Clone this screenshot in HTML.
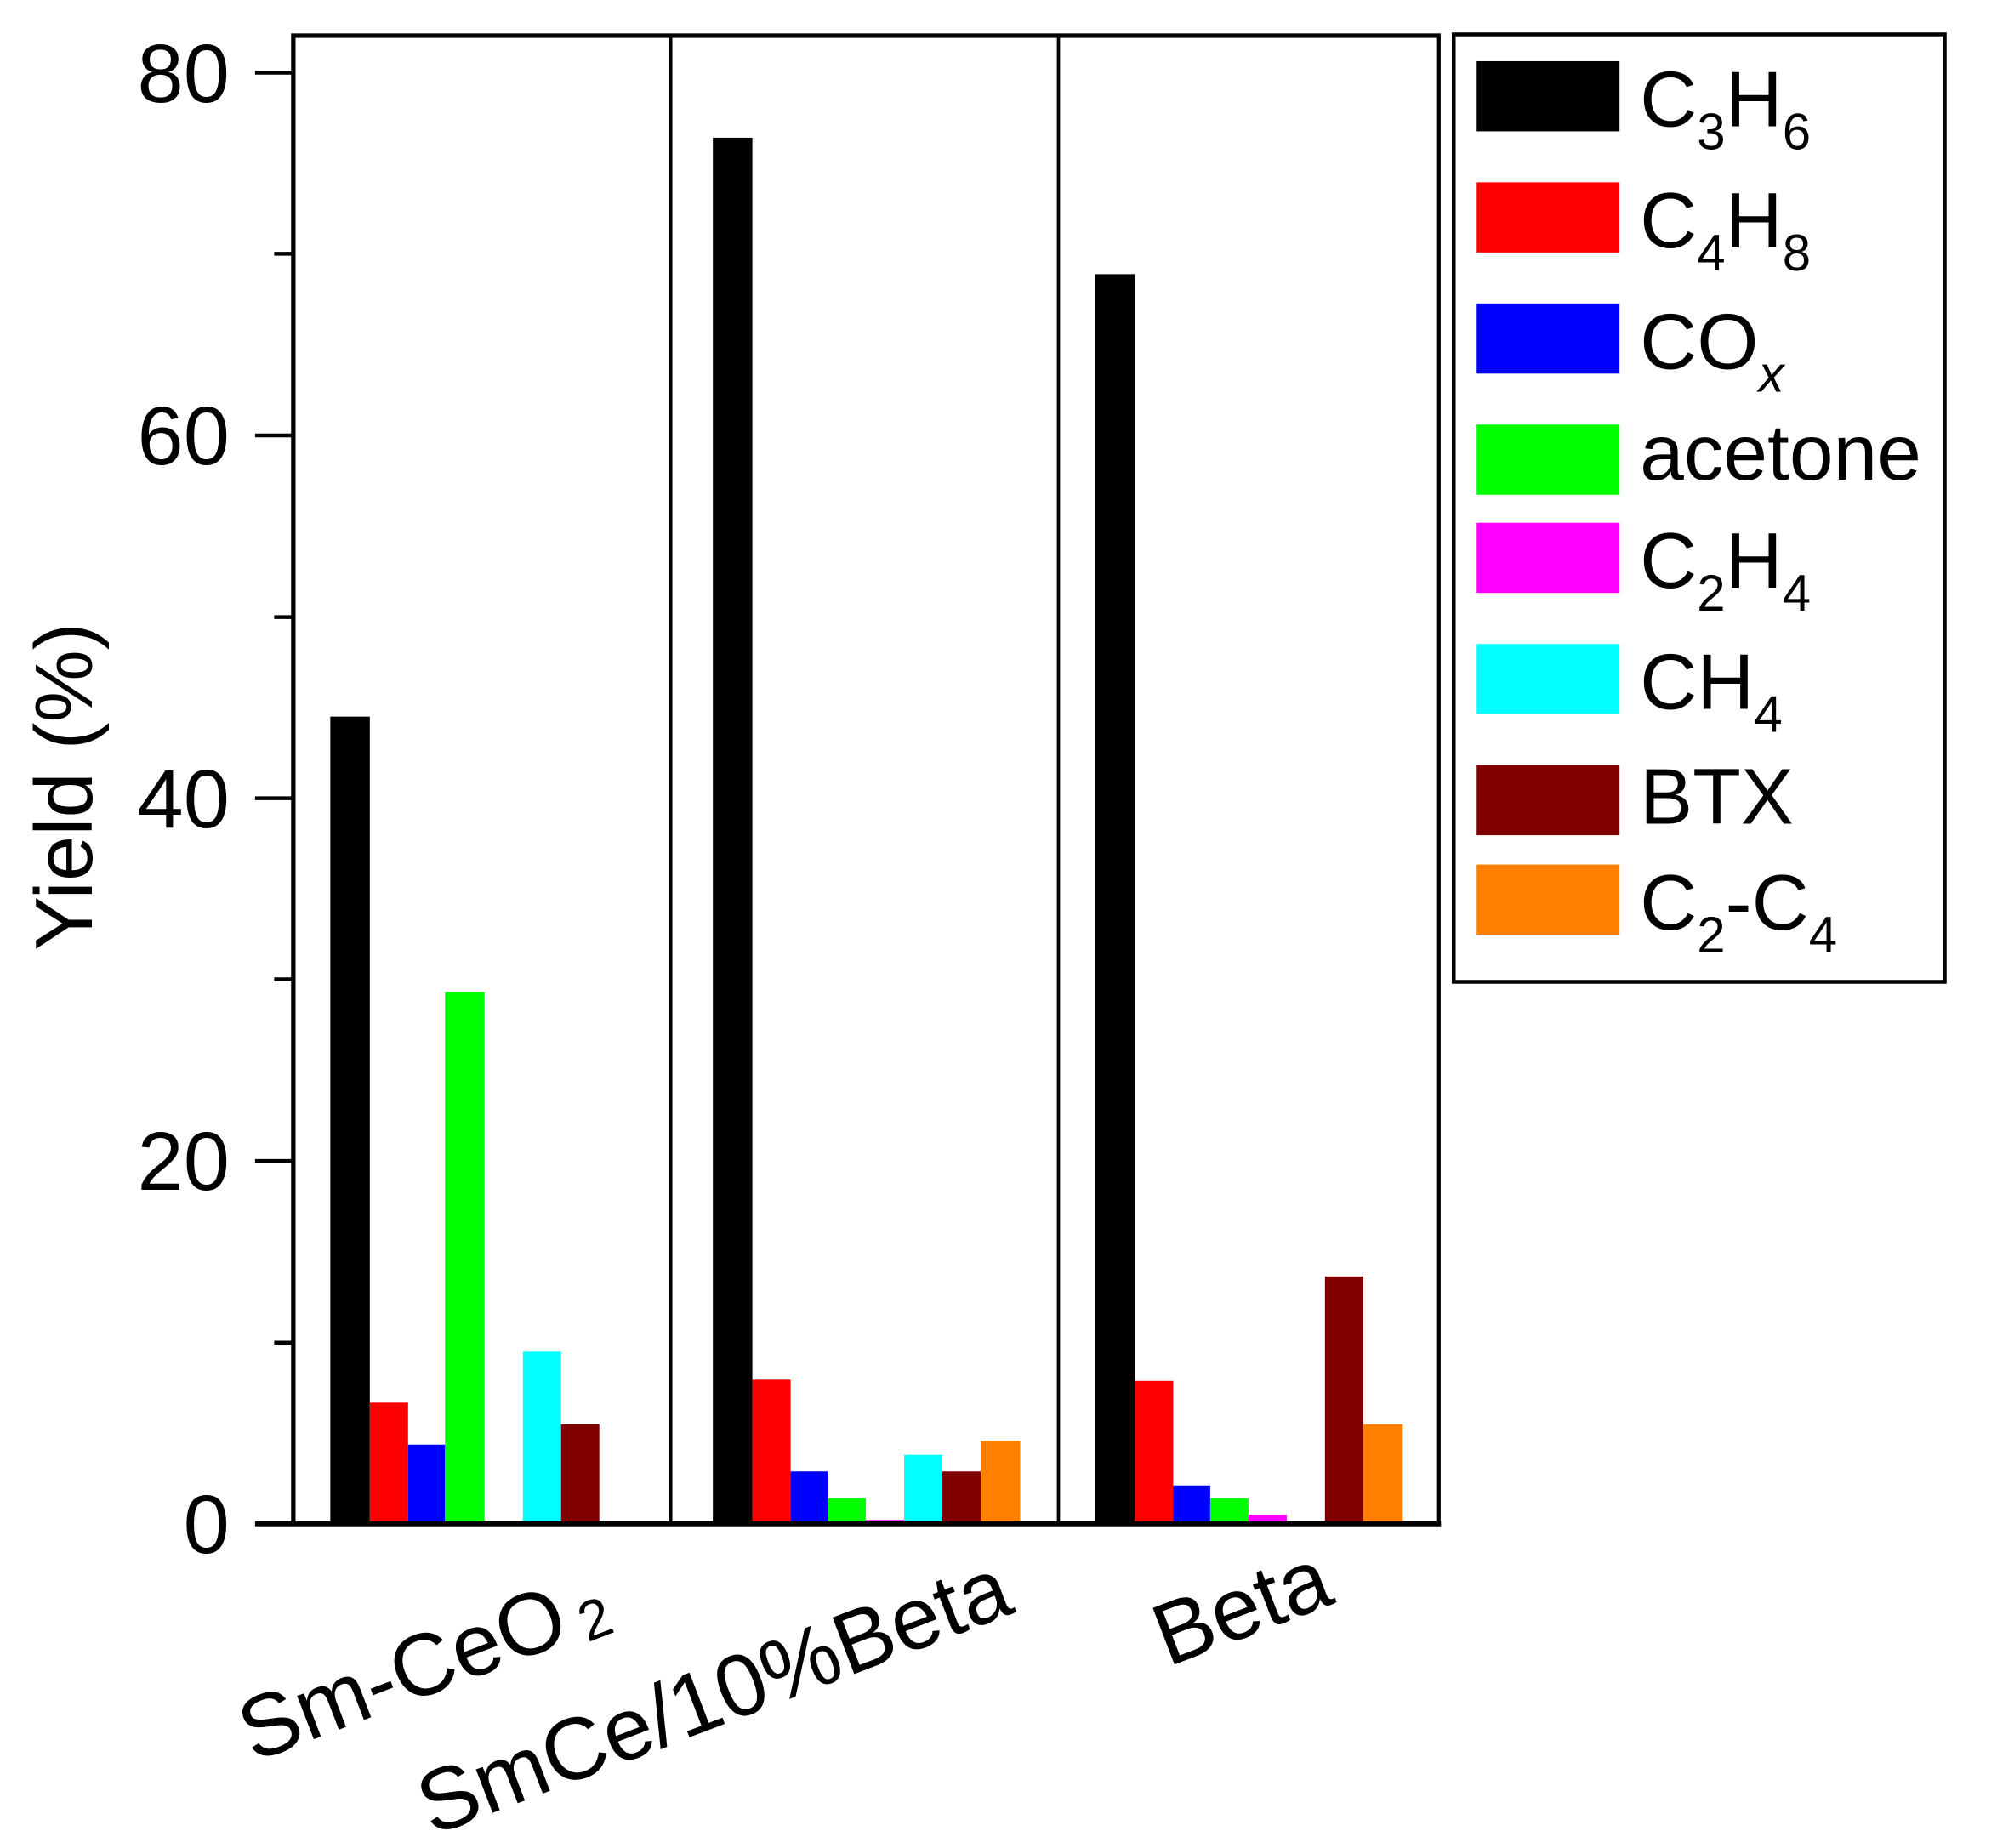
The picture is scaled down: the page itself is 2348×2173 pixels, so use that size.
<!DOCTYPE html>
<html><head><meta charset="utf-8"><style>html,body{margin:0;padding:0;background:#fff}svg{display:block}</style></head><body>
<svg width="2348" height="2173" viewBox="0 0 1566 1449.3" xmlns="http://www.w3.org/2000/svg" font-family="Liberation Sans, Arial, sans-serif">
<rect width="1566" height="1449.3" fill="#fff"/>
<g id="bars">
<rect x="259" y="562" width="31" height="633" fill="#000"/>
<rect x="290" y="1100" width="30" height="95" fill="#f00"/>
<rect x="320" y="1133" width="29" height="62" fill="#00f"/>
<rect x="349" y="778" width="31" height="417" fill="#0f0"/>
<rect x="410" y="1060" width="30" height="135" fill="#0ff"/>
<rect x="440" y="1117" width="30" height="78" fill="#800000"/>
<rect x="559" y="108" width="31" height="1087" fill="#000"/>
<rect x="590" y="1082" width="30" height="113" fill="#f00"/>
<rect x="620" y="1154" width="29" height="41" fill="#00f"/>
<rect x="649" y="1175" width="30" height="20" fill="#0f0"/>
<rect x="679" y="1192" width="30" height="3" fill="#f0f"/>
<rect x="709" y="1141" width="30" height="54" fill="#0ff"/>
<rect x="739" y="1154" width="30" height="41" fill="#800000"/>
<rect x="769" y="1130" width="31" height="65" fill="#ff8000"/>
<rect x="859" y="215" width="31" height="980" fill="#000"/>
<rect x="890" y="1083" width="30" height="112" fill="#f00"/>
<rect x="920" y="1165" width="29" height="30" fill="#00f"/>
<rect x="949" y="1175" width="30" height="20" fill="#0f0"/>
<rect x="979" y="1188" width="30" height="7" fill="#f0f"/>
<rect x="1039" y="1001" width="30" height="194" fill="#800000"/>
<rect x="1069" y="1117" width="31" height="78" fill="#ff8000"/>
</g>
<rect x="230" y="28" width="898" height="1167" fill="none" stroke="#000" stroke-width="3.5"/>
<line x1="526" y1="28" x2="526" y2="1195" stroke="#000" stroke-width="2.5"/>
<line x1="830" y1="28" x2="830" y2="1195" stroke="#000" stroke-width="2.5"/>
<line x1="200" y1="1195" x2="1130" y2="1195" stroke="#000" stroke-width="4"/>
<g stroke="#000" stroke-width="3">
<line x1="200" y1="57" x2="230" y2="57"/>
<line x1="200" y1="341.5" x2="230" y2="341.5"/>
<line x1="200" y1="626" x2="230" y2="626"/>
<line x1="200" y1="910.5" x2="230" y2="910.5"/>
<line x1="215" y1="199" x2="230" y2="199"/>
<line x1="215" y1="484" x2="230" y2="484"/>
<line x1="215" y1="768" x2="230" y2="768"/>
<line x1="215" y1="1053" x2="230" y2="1053"/>
</g>
<g font-size="65" text-anchor="end" fill="#000">
<text x="180" y="80">80</text>
<text x="180" y="364">60</text>
<text x="180" y="649">40</text>
<text x="180" y="933">20</text>
<text x="180" y="1218">0</text>
</g>
<text transform="translate(72,617) rotate(-90)" font-size="64" text-anchor="middle">Yield (%)</text>
<g font-size="69" text-anchor="middle">
<text transform="translate(340,1328) rotate(-21)">Sm-CeO<tspan font-size="44" dx="10" dy="6">2</tspan></text>
<text transform="translate(568,1352) rotate(-21)">SmCe/10%Beta</text>
<text transform="translate(982,1282) rotate(-21)">Beta</text>
</g>
<rect x="1140" y="27" width="385" height="743" fill="none" stroke="#000" stroke-width="3"/>
<rect x="1158" y="48" width="112" height="55" fill="#000"/>
<rect x="1158" y="143" width="112" height="55" fill="#f00"/>
<rect x="1158" y="238" width="112" height="55" fill="#00f"/>
<rect x="1158" y="333" width="112" height="55" fill="#0f0"/>
<rect x="1158" y="410" width="112" height="55" fill="#f0f"/>
<rect x="1158" y="505" width="112" height="55" fill="#0ff"/>
<rect x="1158" y="600" width="112" height="55" fill="#800000"/>
<rect x="1158" y="678" width="112" height="55" fill="#ff8000"/>
<g font-size="62" fill="#000">
<text x="1286" y="99">C<tspan font-size="40" dy="18">3</tspan><tspan dy="-18">H</tspan><tspan font-size="40" dy="18">6</tspan></text>
<text x="1286" y="194">C<tspan font-size="40" dy="18">4</tspan><tspan dy="-18">H</tspan><tspan font-size="40" dy="18">8</tspan></text>
<text x="1286" y="289">CO<tspan font-size="40" dy="18" font-style="italic">x</tspan></text>
<text x="1286" y="376">acetone</text>
<text x="1286" y="461">C<tspan font-size="40" dy="18">2</tspan><tspan dy="-18">H</tspan><tspan font-size="40" dy="18">4</tspan></text>
<text x="1286" y="556">CH<tspan font-size="40" dy="18">4</tspan></text>
<text x="1286" y="646">BTX</text>
<text x="1286" y="729">C<tspan font-size="40" dy="18">2</tspan><tspan dy="-18">-C</tspan><tspan font-size="40" dy="18">4</tspan></text>
</g>
</svg>
</body></html>
